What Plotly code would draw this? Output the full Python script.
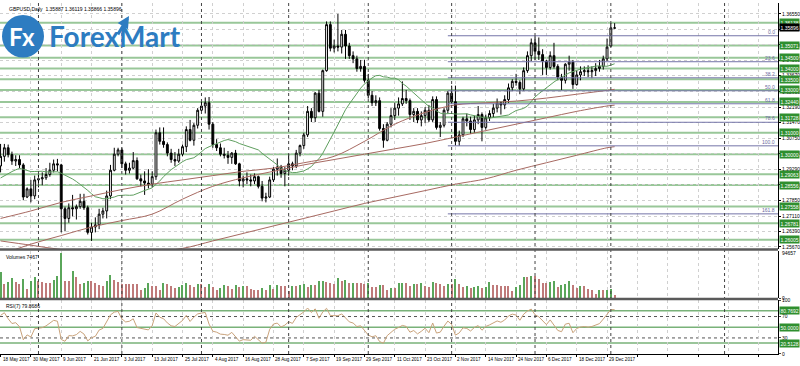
import numpy as np
import plotly.graph_objects as go
from plotly.subplots import make_subplots

# ---------------- data ----------------
opens = [1.2945,1.2990,1.3030,1.2998,1.2968,1.2975,1.2950,1.2800,1.2838,1.2805,
         1.2880,1.2885,1.2890,1.2905,1.2925,1.2955,1.2950,1.2745,1.2700,1.2750,
         1.2745,1.2755,1.2780,1.2750,1.2635,1.2660,1.2670,1.2720,1.2735,1.2805,
         1.2925,1.3000,1.3020,1.2955,1.2925,1.2935,1.2970,1.2885,1.2875,1.2865,
         1.2860,1.2895,1.3100,1.3060,1.3045,1.3005,1.2975,1.2968,1.3000,1.3035,
         1.3115,1.3065,1.3135,1.3205,1.3225,1.3240,1.3140,1.3045,1.3030,1.3000,
         1.2995,1.2985,1.3005,1.2955,1.2875,1.2885,1.2880,1.2875,1.2895,1.2850,
         1.2795,1.2800,1.2880,1.2930,1.2940,1.2910,1.2925,1.2955,1.2945,1.3005,
         1.3040,1.3090,1.3200,1.3170,1.3285,1.3200,1.3390,1.3605,1.3495,1.3505,
         1.3500,1.3560,1.3505,1.3460,1.3445,1.3400,1.3410,1.3345,1.3275,1.3240,
         1.3250,1.3120,1.3065,1.3140,1.3180,1.3215,1.3235,1.3260,1.3250,1.3185,
         1.3200,1.3160,1.3180,1.3205,1.3160,1.3255,1.3125,1.3135,1.3205,1.3285,
         1.3245,1.3060,1.3090,1.3165,1.3155,1.3115,1.3160,1.3185,1.3125,1.3170,
         1.3190,1.3215,1.3240,1.3230,1.3255,1.3310,1.3340,1.3335,1.3305,1.3390,
         1.3460,1.3520,1.3480,1.3465,1.3435,1.3405,1.3460,1.3410,1.3360,1.3345,
         1.3420,1.3430,1.3325,1.3370,1.3385,1.3390,1.3385,1.3390,1.3400,1.3410,
         1.3445,1.3505,1.35887]
highs = [1.3048,1.3048,1.3045,1.3012,1.2995,1.2995,1.2958,1.2845,1.2880,1.2900,
         1.2905,1.2915,1.2935,1.2960,1.2975,1.2978,1.2955,1.2755,1.2770,1.2810,
         1.2765,1.2815,1.2815,1.2760,1.2680,1.2705,1.2745,1.2750,1.2830,1.2950,
         1.3030,1.3030,1.3030,1.2965,1.2960,1.3010,1.2985,1.2905,1.2920,1.2930,
         1.2920,1.3115,1.3125,1.3125,1.3055,1.3025,1.3010,1.3025,1.3045,1.3130,
         1.3160,1.3145,1.3215,1.3245,1.3265,1.3267,1.3150,1.3070,1.3050,1.3030,
         1.3015,1.3010,1.3020,1.2960,1.2900,1.2915,1.2905,1.2910,1.2900,1.2875,
         1.2820,1.2895,1.2940,1.2980,1.2950,1.2940,1.3000,1.2965,1.3020,1.3045,
         1.3100,1.3225,1.3215,1.3290,1.3300,1.3395,1.3620,1.3620,1.3535,1.3655,
         1.3580,1.3580,1.3520,1.3480,1.3460,1.3440,1.3440,1.3375,1.3295,1.3275,
         1.3265,1.3140,1.3150,1.3215,1.3240,1.3265,1.3340,1.3300,1.3260,1.3215,
         1.3215,1.3200,1.3220,1.3230,1.3270,1.3270,1.3150,1.3215,1.3295,1.3320,
         1.3320,1.3110,1.3175,1.3190,1.3175,1.3180,1.3225,1.3195,1.3185,1.3205,
         1.3235,1.3260,1.3245,1.3275,1.3330,1.3350,1.3375,1.3345,1.3405,1.3480,
         1.3540,1.3553,1.3545,1.3490,1.3440,1.3480,1.3520,1.3420,1.3375,1.3425,
         1.3460,1.3440,1.3390,1.3410,1.3410,1.3415,1.3410,1.3425,1.3440,1.3460,
         1.3540,1.3612,1.36119]
lows = [1.2915,1.2965,1.2985,1.2950,1.2945,1.2935,1.2785,1.2795,1.2775,1.2790,
        1.2845,1.2855,1.2880,1.2895,1.2915,1.2920,1.2635,1.2640,1.2680,1.2710,
        1.2695,1.2745,1.2740,1.2625,1.2595,1.2635,1.2650,1.2700,1.2700,1.2790,
        1.2920,1.2990,1.2935,1.2905,1.2910,1.2930,1.2880,1.2850,1.2810,1.2840,
        1.2845,1.2880,1.3045,1.3030,1.2990,1.2960,1.2945,1.2960,1.2990,1.3010,
        1.3060,1.3040,1.3120,1.3190,1.3190,1.3115,1.3030,1.3015,1.2990,1.2980,
        1.2955,1.2955,1.2950,1.2850,1.2845,1.2860,1.2850,1.2860,1.2840,1.2780,
        1.2775,1.2795,1.2870,1.2900,1.2890,1.2850,1.2900,1.2925,1.2935,1.2990,
        1.3025,1.3080,1.3150,1.3150,1.3195,1.3175,1.3385,1.3480,1.3475,1.3480,
        1.3470,1.3445,1.3445,1.3425,1.3385,1.3385,1.3335,1.3260,1.3225,1.3225,
        1.3110,1.3030,1.3060,1.3125,1.3160,1.3180,1.3225,1.3235,1.3160,1.3150,
        1.3145,1.3130,1.3145,1.3150,1.3150,1.3115,1.3080,1.3125,1.3190,1.3235,
        1.3040,1.3039,1.3080,1.3130,1.3095,1.3100,1.3140,1.3060,1.3115,1.3155,
        1.3170,1.3195,1.3185,1.3210,1.3240,1.3295,1.3320,1.3280,1.3295,1.3380,
        1.3435,1.3440,1.3440,1.3370,1.3370,1.3395,1.3400,1.3345,1.3300,1.3330,
        1.3390,1.3305,1.3320,1.3345,1.3365,1.3360,1.3355,1.3365,1.3385,1.3395,
        1.3435,1.3500,1.35866]
closes = [1.2990,1.3030,1.2998,1.2968,1.2975,1.2950,1.2800,1.2838,1.2805,1.2880,
          1.2885,1.2890,1.2905,1.2925,1.2955,1.2950,1.2745,1.2700,1.2750,1.2745,
          1.2755,1.2780,1.2750,1.2635,1.2660,1.2670,1.2720,1.2735,1.2805,1.2925,
          1.3000,1.3020,1.2955,1.2925,1.2935,1.2970,1.2885,1.2875,1.2865,1.2860,
          1.2895,1.3100,1.3060,1.3045,1.3005,1.2975,1.2968,1.3000,1.3035,1.3115,
          1.3065,1.3135,1.3205,1.3225,1.3240,1.3140,1.3045,1.3030,1.3000,1.2995,
          1.2985,1.3005,1.2955,1.2875,1.2885,1.2880,1.2875,1.2895,1.2850,1.2795,
          1.2800,1.2880,1.2930,1.2940,1.2910,1.2925,1.2955,1.2945,1.3005,1.3040,
          1.3090,1.3200,1.3170,1.3285,1.3200,1.3390,1.3605,1.3495,1.3505,1.3500,
          1.3560,1.3505,1.3460,1.3445,1.3400,1.3410,1.3345,1.3275,1.3240,1.3250,
          1.3120,1.3065,1.3140,1.3180,1.3215,1.3235,1.3260,1.3250,1.3185,1.3200,
          1.3160,1.3180,1.3205,1.3160,1.3255,1.3125,1.3135,1.3205,1.3285,1.3245,
          1.3060,1.3090,1.3165,1.3155,1.3115,1.3160,1.3185,1.3125,1.3170,1.3190,
          1.3215,1.3240,1.3230,1.3255,1.3310,1.3340,1.3335,1.3305,1.3390,1.3460,
          1.3520,1.3480,1.3465,1.3435,1.3405,1.3460,1.3410,1.3360,1.3345,1.3420,
          1.3430,1.3325,1.3370,1.3385,1.3390,1.3385,1.3390,1.3400,1.3410,1.3445,
          1.3500,1.3590,1.35896]
# closes before the first visible bar (warm-up for the 20 MA and RSI)
prior_closes = [1.2780,1.2810,1.2800,1.2790,1.2810,1.2820,1.2880,1.2950,1.2910,1.2870,
                1.2870,1.2880,1.2970,1.2940,1.2940,1.2940,1.2880,1.2880,1.2900,1.2950]
volumes = [54900,30900,34300,43200,34300,30900,41200,20600,36400,46000,
           36400,34300,32200,32200,39100,48000,94657,37700,37700,57000,
           46000,30900,32200,36400,36400,32200,27400,25400,36400,50000,
           39100,34300,30900,30900,30900,30900,30900,18500,22600,33600,
           25400,25400,18500,33600,29500,25400,22600,24000,27400,32200,
           27400,24000,30900,29500,24000,30900,24000,18500,22600,27400,
           26800,20600,27400,24000,25400,25400,20600,18500,18500,22600,
           18500,27400,20600,27400,26800,26800,15800,25400,25400,27400,
           29500,24000,27400,27400,36400,37700,34300,32200,30900,43200,
           36400,39100,32200,33600,32200,32200,30900,32200,24000,24000,
           27400,27400,17200,22600,22600,32200,33600,32200,25400,29500,
           29500,32200,25400,24000,34300,32200,30900,25400,29500,29500,
           41200,30900,24000,25400,22600,24000,25400,22600,24000,34300,
           27400,27400,25400,25400,25400,15800,24000,27400,46000,46000,
           48000,48000,41200,32200,32200,34300,36400,24000,27400,30900,
           36400,27400,22600,25400,25400,20600,18500,8900,17200,17200,
           18500,20000,7467]

tick_idx = [0, 8, 16, 24, 32, 40, 48, 56, 64, 72, 80, 88, 96, 104, 112, 120, 128, 136, 144, 152, 160]
tick_labels = ["18 May 2017", "30 May 2017", "9 Jun 2017", "21 Jun 2017", "3 Jul 2017", "13 Jul 2017",
               "25 Jul 2017", "4 Aug 2017", "16 Aug 2017", "28 Aug 2017", "7 Sep 2017", "19 Sep 2017",
               "29 Sep 2017", "11 Oct 2017", "23 Oct 2017", "2 Nov 2017", "14 Nov 2017", "24 Nov 2017",
               "6 Dec 2017", "18 Dec 2017", "29 Dec 2017"]
separator_idx = [10, 32, 53, 76, 97, 119, 141, 161, 191]

price_ticks = [1.36550, 1.35830, 1.35110, 1.34390, 1.33670, 1.32910, 1.32190, 1.31470,
               1.30750, 1.30030, 1.29290, 1.28570, 1.27850, 1.27110, 1.26390, 1.25670]
price_tick_labels = ["%.5f" % v for v in price_ticks]

levels = [1.36138, 1.35071, 1.34500, 1.34000, 1.33500, 1.33000, 1.32440, 1.31728,
          1.31000, 1.30000, 1.29063, 1.28556, 1.27558, 1.26781, 1.26005]
last_price = 1.35896

fib_high, fib_low = 1.3553, 1.3039
fib_start_idx = 118
fib_levels = [0.0, 23.6, 38.2, 50.0, 61.8, 78.6, 100.0, 161.8]

ma_idx = [0, 8, 16, 24, 32, 40, 48, 56, 64, 72, 80, 88, 96, 104, 112, 120, 128, 136, 144, 152, 160, 162]
ma50 = [1.2700, 1.2735, 1.2775, 1.2805, 1.2835, 1.2860, 1.2880, 1.2900, 1.2920, 1.2935, 1.2960,
        1.2990, 1.3060, 1.3140, 1.3195, 1.3230, 1.3240, 1.3248, 1.3262, 1.3280, 1.3298, 1.3303]
ma100 = [1.2530, 1.2580, 1.2620, 1.2660, 1.2690, 1.2720, 1.2790, 1.2850, 1.2890, 1.2920, 1.2950,
         1.2975, 1.3000, 1.3025, 1.3050, 1.3080, 1.3110, 1.3140, 1.3170, 1.3200, 1.3225, 1.3229]
ma200 = [1.2595, 1.2575, 1.2555, 1.2545, 1.2540, 1.2545, 1.2560, 1.2595, 1.2630, 1.2665, 1.2700,
         1.2735, 1.2770, 1.2800, 1.2830, 1.2860, 1.2885, 1.2925, 1.2960, 1.2995, 1.3030, 1.3035]

rsi_levels = [80.7692, 50.0, 20.5128]
rsi_dotted = [70, 30]
rsi_ticks = [100, 70, 30, 0]

vol_label = "Volumes 7467"
rsi_label = "RSI(7) 79.8686"
header = "GBPUSD,Daily  1.35887 1.36119 1.35866 1.35896"

# ---------------- derived ----------------
n = len(closes)
xs = list(range(n))
ext = np.array(prior_closes + closes)
ma20 = np.convolve(ext, np.ones(20) / 20, mode="valid")[-n:]

def rsi_calc(c, p=7):
    d = np.diff(c)
    up = np.clip(d, 0, None)
    dn = np.clip(-d, 0, None)
    au, ad = up[:p].mean(), dn[:p].mean()
    out = [np.nan] * (p + 1)
    for i in range(p, len(d)):
        au = (au * (p - 1) + up[i]) / p
        ad = (ad * (p - 1) + dn[i]) / p
        out.append(100 - 100 / (1 + au / ad) if ad > 0 else 100)
    return np.array(out[:len(c)])

rsi = rsi_calc(ext)[-n:]
vol_colors = ["#5aa65a" if i == 0 or volumes[i] > volumes[i - 1] else "#bf7a7a" for i in range(n)]

# ---------------- layout geometry (pixels) ----------------
W, H = 800, 366
ML, MR, MT, MB = 0, 22, 0, 12
PH = H - MT - MB
def fy(px):
    return 1 - px / PH

XMIN, XMAX = -0.15, 205.1
FONT = "Liberation Sans"

fig = make_subplots(rows=3, cols=1, shared_xaxes=True, vertical_spacing=0.0)

fig.add_trace(go.Candlestick(x=xs, open=opens, high=highs, low=lows, close=closes,
                             increasing=dict(line=dict(color="black", width=1), fillcolor="white"),
                             decreasing=dict(line=dict(color="black", width=1), fillcolor="black"),
                             whiskerwidth=0, hoverinfo="skip", showlegend=False), row=1, col=1)
fig.add_trace(go.Scatter(x=xs, y=ma20, mode="lines", line=dict(color="#5f9f5f", width=1),
                         hoverinfo="skip", showlegend=False), row=1, col=1)
for m in (ma50, ma100, ma200):
    fig.add_trace(go.Scatter(x=ma_idx, y=m, mode="lines", line=dict(color="#a86a62", width=1, shape="spline"),
                             hoverinfo="skip", showlegend=False), row=1, col=1)

fig.add_trace(go.Bar(x=xs, y=volumes, marker=dict(color=vol_colors, line=dict(width=0)), width=0.3,
                     hoverinfo="skip", showlegend=False), row=2, col=1)
fig.add_trace(go.Scatter(x=xs, y=rsi, mode="lines", line=dict(color="#c9a27a", width=1),
                         hoverinfo="skip", showlegend=False), row=3, col=1)

shapes = []
annots = []
for lv in levels:
    shapes.append(dict(type="line", xref="x domain", yref="y", x0=0, x1=1, y0=lv, y1=lv,
                       line=dict(color="#99c799", width=2), layer="below"))
    annots.append(dict(xref="paper", yref="y", x=1, y=lv, xanchor="left", yanchor="middle", xshift=1,
                       text=f"{lv:.5f}", showarrow=False, bgcolor="#2f8f2f",
                       font=dict(color="white", size=5, family=FONT), borderpad=0.5))
annots.append(dict(xref="paper", yref="y", x=1, y=last_price, xanchor="left", yanchor="middle", xshift=1,
                   text=f"{last_price:.5f}", showarrow=False, bgcolor="black",
                   font=dict(color="white", size=5, family=FONT), borderpad=0.5))
for f in fib_levels:
    p = fib_high - f / 100 * (fib_high - fib_low)
    shapes.append(dict(type="line", xref="x", yref="y", x0=fib_start_idx, x1=XMAX, y0=p, y1=p,
                       line=dict(color="#7474a8", width=1)))
    annots.append(dict(xref="paper", yref="y", x=0.997, y=p, xanchor="right", yanchor="bottom",
                       text=f"{f:.1f}", showarrow=False, font=dict(color="#6a6aa0", size=5, family=FONT),
                       borderpad=0))
for s in separator_idx:
    shapes.append(dict(type="line", xref="x", yref="paper", x0=s, x1=s, y0=0, y1=1,
                       line=dict(color="#444", width=1, dash="dot")))
for lv in rsi_levels:
    shapes.append(dict(type="line", xref="x3 domain", yref="y3", x0=0, x1=1, y0=lv, y1=lv,
                       line=dict(color="#79b279", width=1.5), layer="below"))
    annots.append(dict(xref="paper", yref="y3", x=1, y=lv, xanchor="left", yanchor="middle", xshift=1,
                       text=f"{lv:.4f}", showarrow=False, bgcolor="#2f8f2f",
                       font=dict(color="white", size=5, family=FONT), borderpad=0.5))
for lv in rsi_dotted:
    shapes.append(dict(type="line", xref="x3 domain", yref="y3", x0=0, x1=1, y0=lv, y1=lv,
                       line=dict(color="#555", width=1, dash="dot"), layer="below"))
for py in (248.5, 298.5):
    shapes.append(dict(type="line", xref="paper", yref="paper", x0=0, x1=1, y0=fy(py), y1=fy(py),
                       line=dict(color="#5a5a5a", width=2.5)))
for i, t in zip(tick_idx, tick_labels):
    annots.append(dict(xref="x", yref="paper", x=i, y=0, xanchor="left", yanchor="top", yshift=-1,
                       text=t, showarrow=False, font=dict(size=4.6, color="black", family=FONT)))
annots.append(dict(xref="paper", yref="paper", x=0.005, y=fy(251), xanchor="left", yanchor="top",
                   text=vol_label, showarrow=False, font=dict(size=5, color="black", family=FONT)))
annots.append(dict(xref="paper", yref="paper", x=0.005, y=fy(301), xanchor="left", yanchor="top",
                   text=rsi_label, showarrow=False, font=dict(size=5, color="black", family=FONT)))
annots.append(dict(xref="paper", yref="paper", x=0.009, y=fy(1), xanchor="left", yanchor="top",
                   text=header, showarrow=False, font=dict(size=5, color="black", family=FONT)))
annots.append(dict(xref="paper", yref="y2", x=1, y=max(volumes), xanchor="left", yanchor="middle", xshift=2,
                   text=str(max(volumes)), showarrow=False, font=dict(size=5, color="black", family=FONT)))
# logo
LOGO = "#2d7cc1"
shapes.append(dict(type="circle", xref="paper", yref="paper", x0=2 / 778, x1=44 / 778, y0=fy(55), y1=fy(12),
                   fillcolor=LOGO, line=dict(width=0)))
annots.append(dict(xref="paper", yref="paper", x=22 / 778, y=fy(34), xanchor="center", yanchor="middle",
                   text="Fx", showarrow=False, font=dict(size=24, color="white", family="Lato", weight=700)))
annots.append(dict(xref="paper", yref="paper", x=47 / 778, y=fy(33), xanchor="left", yanchor="middle",
                   text="ForexMart", showarrow=False, font=dict(size=28, color=LOGO, family="Lato", weight=700)))
annots.append(dict(xref="paper", yref="paper", x=129 / 778, y=fy(13), ax=-12, ay=20, text="",
                   showarrow=True, arrowhead=2, arrowsize=0.8, arrowwidth=3, arrowcolor=LOGO))

fig.update_layout(
    width=W, height=H, margin=dict(l=ML, r=MR, t=MT, b=MB),
    paper_bgcolor="white", plot_bgcolor="white",
    shapes=shapes, annotations=annots, showlegend=False, bargap=0,
    yaxis=dict(domain=[fy(248), fy(0)], range=[1.3655 - 237 / 2160, 1.3655 + 11 / 2160], side="right",
               tickvals=price_ticks, ticktext=price_tick_labels, showgrid=True, gridcolor="#d0d0d0",
               griddash="dot", gridwidth=1, ticks="outside", ticklen=2, tickcolor="black",
               tickfont=dict(size=5, family=FONT, color="black"), showline=True, linecolor="black",
               linewidth=1, zeroline=False, ticklabeloverflow="allow"),
    yaxis2=dict(domain=[fy(298), fy(250)], range=[0, max(volumes) * 48 / 45.7], side="right",
                tickvals=[0], ticktext=["0"], showgrid=False, ticks="outside", ticklen=2,
                tickfont=dict(size=5, family=FONT, color="black"), showline=True, linecolor="black",
                zeroline=False, ticklabeloverflow="allow"),
    yaxis3=dict(domain=[fy(354), fy(300)], range=[0, 100], side="right", tickvals=rsi_ticks,
                ticktext=[str(v) for v in rsi_ticks], showgrid=False, ticks="outside", ticklen=2,
                tickfont=dict(size=5, family=FONT, color="black"), showline=True, linecolor="black",
                zeroline=False, ticklabeloverflow="allow"),
)
for ax in ("xaxis", "xaxis2", "xaxis3"):
    fig.layout[ax].update(range=[XMIN, XMAX], tickvals=list(range(0, 206, 8)), showticklabels=False,
                          showgrid=True, gridcolor="#d0d0d0", griddash="dot", gridwidth=1,
                          zeroline=False, rangeslider=dict(visible=False), showline=False, ticks="")
fig.layout.xaxis3.update(showline=True, linecolor="black", ticks="outside", ticklen=2, tickcolor="black")

fig.write_html("out.html", config={"displayModeBar": False},
               post_script="document.body.style.margin='0px';document.body.style.padding='0px';")
